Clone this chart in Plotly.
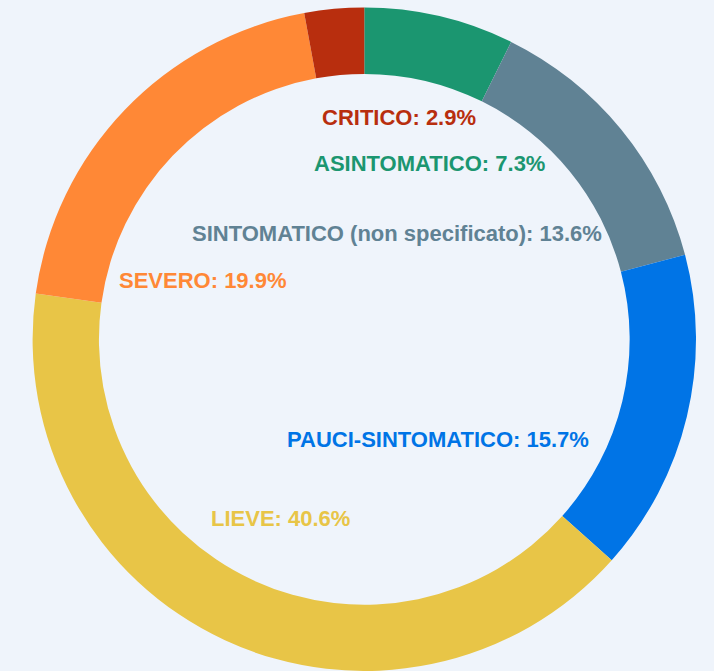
import plotly.graph_objects as go

categories = ["ASINTOMATICO", "SINTOMATICO (non specificato)", "PAUCI-SINTOMATICO",
              "LIEVE", "SEVERO", "CRITICO"]
values = [7.3, 13.6, 15.7, 40.6, 19.9, 2.9]
colors = ["#1B9670", "#608294", "#0074E6", "#E8C547", "#FF8836", "#B82E0E"]

# label positions (pixel coords of label centres) for the text inside the hole
label_x = [429, 397, 438, 280, 203, 398.5]
label_y = [163, 233, 439, 518, 280, 118]

W, H = 714, 671
BG = "#EFF4FB"

fig = go.Figure(go.Pie(
    labels=categories,
    values=values,
    marker=dict(colors=colors, line=dict(width=0)),
    hole=0.8,
    sort=False,
    direction="clockwise",
    rotation=0,
    textinfo="none",
    hoverinfo="label+percent",
    showlegend=False,
    domain=dict(x=[(364.3 - 331.7) / W, (364.3 + 331.7) / W],
                y=[0, 663.4 / H]),
))

annotations = []
for c, v, col, px, py in zip(categories, values, colors, label_x, label_y):
    annotations.append(dict(
        x=px / W, y=1 - py / H, xref="paper", yref="paper",
        text=f"<b>{c}: {v}%</b>", showarrow=False,
        font=dict(family="Liberation Sans, Arial, sans-serif", size=22, color=col),
        xanchor="center", yanchor="middle",
    ))

fig.update_layout(
    width=W, height=H,
    margin=dict(l=0, r=0, t=0, b=0),
    paper_bgcolor=BG, plot_bgcolor=BG,
    annotations=annotations,
)

fig.write_html(
    "out.html",
    config={"displayModeBar": False},
    post_script=(
        "document.body.style.margin='0';"
        "document.body.style.padding='0';"
        "document.body.style.overflow='hidden';"
        f"document.body.style.background='{BG}';"
    ),
)
